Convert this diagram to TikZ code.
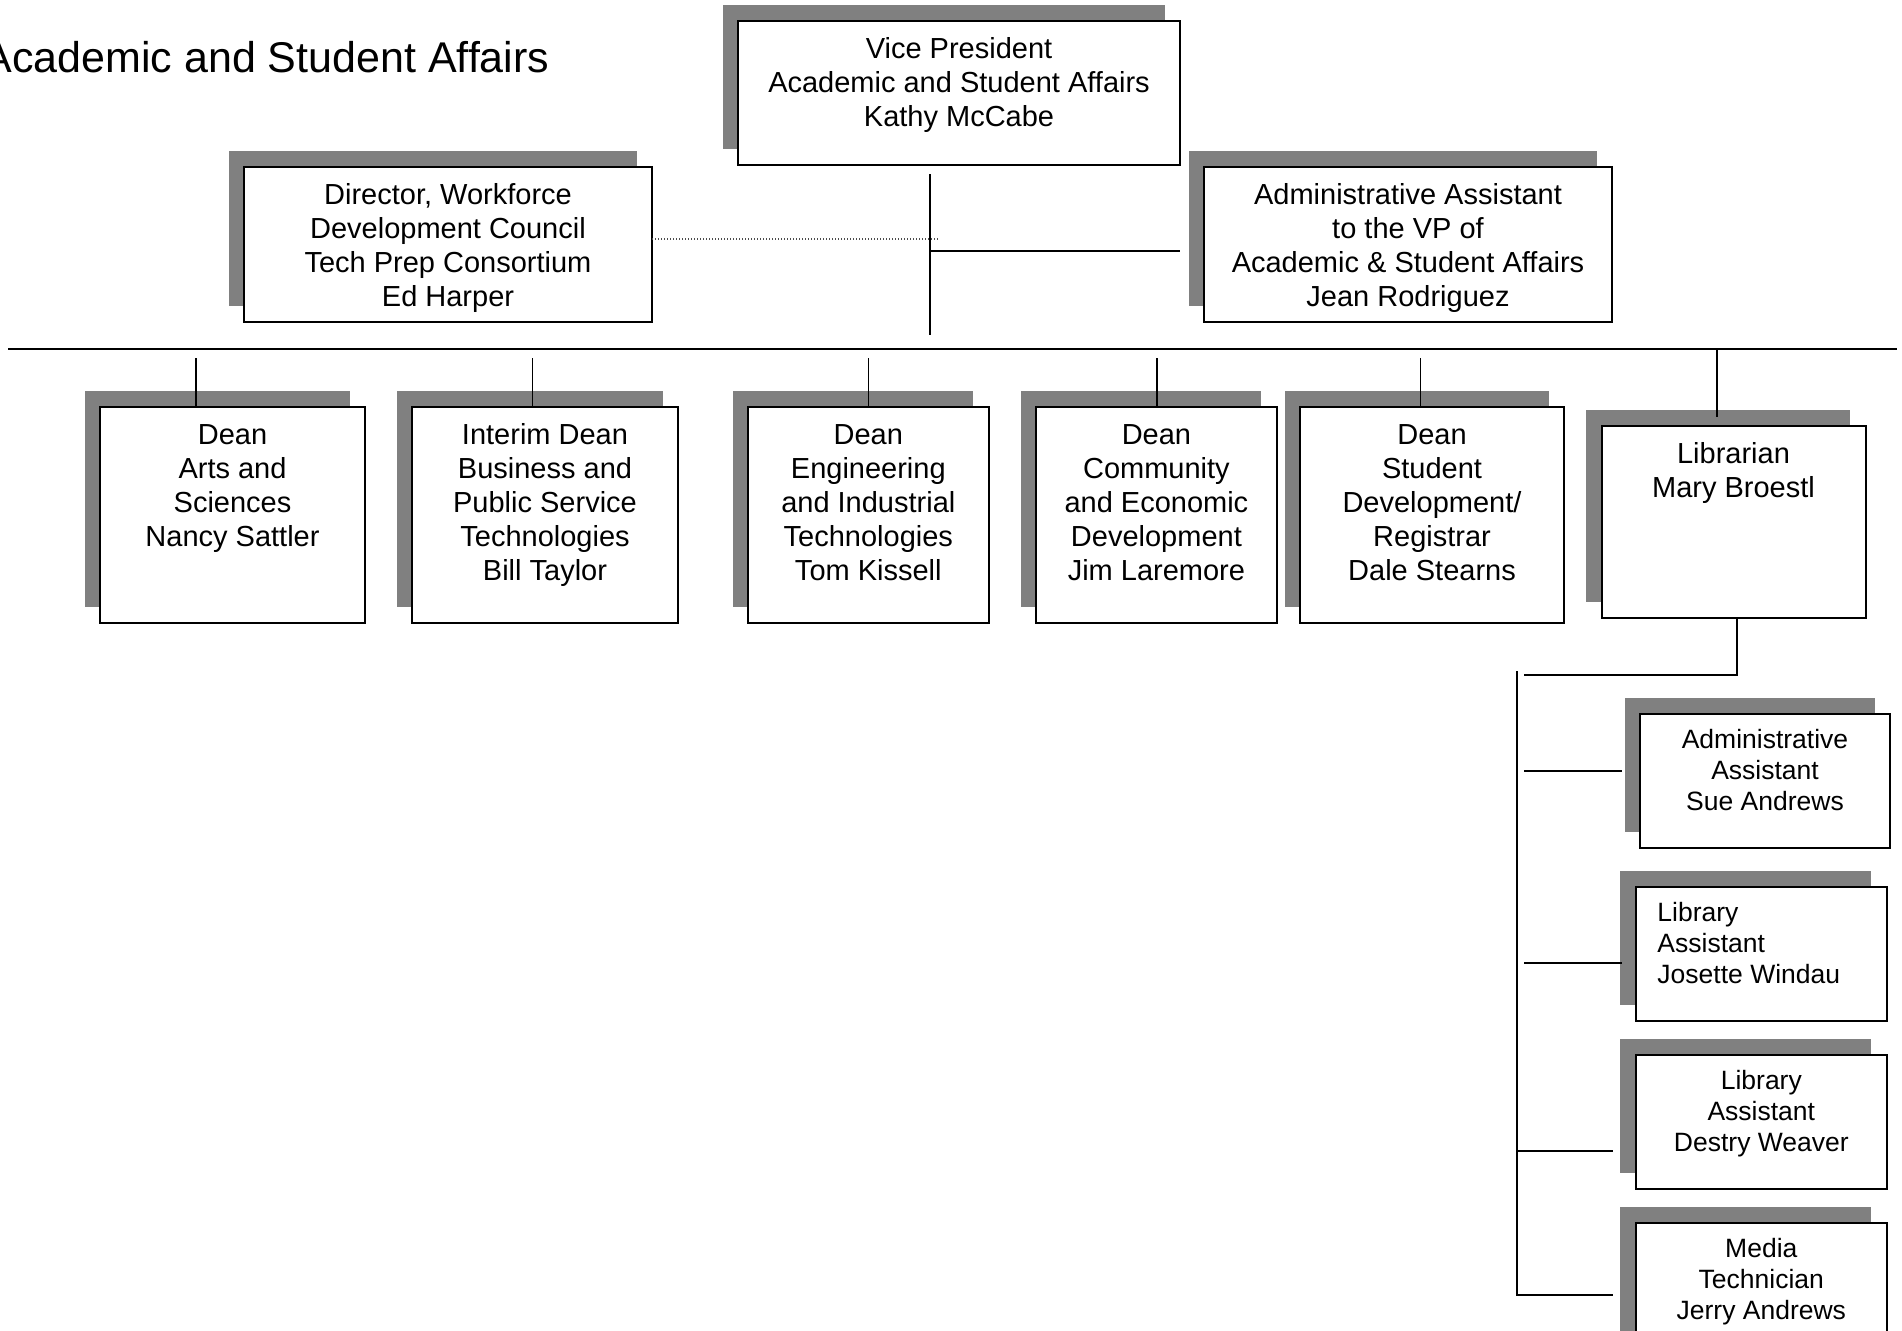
\documentclass[tikz,border=0pt]{standalone}
\usepackage{fontspec}
\setmainfont{Liberation Sans}
\usetikzlibrary{shadows}
\definecolor{shadowgray}{RGB}{128,128,128}
\newcommand{\orgbig}[3]{\parbox[c][#2][t]{#1}{\fontsize{29}{33.8}\selectfont\centering\rule{0pt}{37.8pt}#3}}
\newcommand{\orgsmall}[3]{\parbox[c][#2][t]{#1}{\fontsize{26.5}{31.2}\selectfont\centering\rule{0pt}{34.3pt}#3}}
\newcommand{\orgleft}[3]{\parbox[c][#2][t]{#1}{\fontsize{26.5}{31.2}\selectfont\raggedright\leftskip=21.5pt\rule{0pt}{34.3pt}#3}}
\tikzset{
  orgbox/.style={draw=black, fill=white, line width=2pt, inner sep=0pt, outer sep=0pt,
    general shadow={fill=shadowgray, shadow xshift=-15.5pt, shadow yshift=16pt}},
  conn/.style={line width=1.7pt, draw=black},
  mainbar/.style={line width=2.2pt, draw=black},
  dotconn/.style={line width=1.3pt, draw=black!70, dash pattern=on 1.3pt off 1.7pt},
}
\begin{document}
\begin{tikzpicture}[x=1pt,y=-1pt]
\useasboundingbox (0,0) rectangle (1902,1330);
\clip (0,0) rectangle (1902,1330);
\fill[white] (0,0) rectangle (1902,1330);

% title
\node[anchor=base west, inner sep=0pt, font=\fontsize{43}{50}\selectfont] (title) at (-16.6,73) {Academic and Student Affairs};

% top level
\node[orgbox] (vp) at (959,93) {\orgbig{442pt}{144pt}{Vice President\\Academic and Student Affairs\\Kathy McCabe}};
\node[orgbox] (dir) at (448,244.5) {\orgbig{408pt}{155pt}{Director, Workforce\\Development Council\\Tech Prep Consortium\\Ed Harper}};
\node[orgbox] (adm) at (1408,244.5) {\orgbig{408pt}{155pt}{Administrative Assistant\\to the VP of\\Academic \& Student Affairs\\Jean Rodriguez}};

% deans
\node[orgbox] (arts) at (232.5,515) {\orgbig{265pt}{216pt}{Dean\\Arts and\\Sciences\\Nancy Sattler}};
\node[orgbox] (bus) at (545,515) {\orgbig{266pt}{216pt}{Interim Dean\\Business and\\Public Service\\Technologies\\Bill Taylor}};
\node[orgbox] (eng) at (868.3,515) {\orgbig{240.5pt}{216pt}{Dean\\Engineering\\and Industrial\\Technologies\\Tom Kissell}};
\node[orgbox] (com) at (1156.4,515) {\orgbig{240.7pt}{216pt}{Dean\\Community\\and Economic\\Development\\Jim Laremore}};
\node[orgbox] (stu) at (1432,515) {\orgbig{264pt}{216pt}{Dean\\Student\\Development/\\Registrar\\Dale Stearns}};
\node[orgbox] (lib) at (1733.5,522) {\orgbig{264pt}{192pt}{Librarian\\Mary Broestl}};

% library staff
\node[orgbox] (sue) at (1765,781) {\orgsmall{250pt}{134pt}{Administrative\\Assistant\\Sue Andrews}};
\node[orgbox] (jos) at (1761.3,953.9) {\orgleft{250.7pt}{134.3pt}{Library\\Assistant\\Josette Windau}};
\node[orgbox] (des) at (1761.3,1122) {\orgsmall{250.7pt}{134pt}{Library\\Assistant\\Destry Weaver}};
\node[orgbox] (med) at (1761.3,1290) {\orgsmall{250.7pt}{134pt}{Media\\Technician\\Jerry Andrews}};

% coordinates
\coordinate (vpa) at (930,174);
\coordinate (vpb) at (930,335);
\coordinate (dotend) at (938,239);
\coordinate (vpjoin) at (930,251);
\coordinate (admlink) at (1180,251);
\coordinate (barl) at (8,349);
\coordinate (barr) at (1897,349);
\coordinate (d1) at (196,358);
\coordinate (d2) at (532.5,358);
\coordinate (d3) at (868.6,358);
\coordinate (d4) at (1157,358);
\coordinate (d5) at (1420.5,358);
\coordinate (d6) at (1717,350);
\coordinate (d6e) at (1717,417);
\coordinate (libout) at (1737,674.7);
\coordinate (libl) at (1524,674.7);
\coordinate (vtop) at (1517,671);
\coordinate (vbot) at (1517,1295);
\coordinate (suel) at (1524,771);
\coordinate (suer) at (1622,771);
\coordinate (josl) at (1524,963);
\coordinate (josr) at (1622,963);
\coordinate (desl) at (1517,1151);
\coordinate (desr) at (1613,1151);
\coordinate (medr) at (1613,1295);

% connectors
\draw[conn] (vpa) -- (vpb);
\draw[dotconn] (dir.east |- dotend) -- (dotend);
\draw[conn, line width=1.5pt] (vpjoin) -- (admlink);
\draw[mainbar] (barl) -- (barr);
\draw[conn] (d1) -- (d1 |- arts.north);
\draw[conn] (d2) -- (d2 |- bus.north);
\draw[conn] (d3) -- (d3 |- eng.north);
\draw[conn] (d4) -- (d4 |- com.north);
\draw[conn] (d5) -- (d5 |- stu.north);
\draw[conn] (d6) -- (d6e);
\draw[conn] (libout |- lib.south) -- (libout) -- (libl);
\draw[conn] (vtop) -- (vbot) -- (medr);
\draw[conn] (suel) -- (suer);
\draw[conn] (josl) -- (josr);
\draw[conn] (desl) -- (desr);
\end{tikzpicture}
\end{document}
